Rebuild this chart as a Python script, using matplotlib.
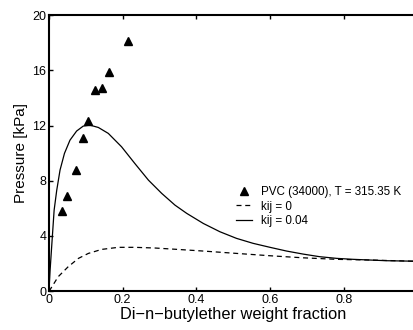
import matplotlib
matplotlib.use('Agg')
from matplotlib import pyplot as plt

plt.rcParams['font.family'] = ['Liberation Sans', 'DejaVu Sans']

# экспериментальные точки
exp_x = [0.036, 0.050, 0.072, 0.093, 0.105, 0.125, 0.145, 0.164, 0.214]
exp_p = [5.8, 6.9, 8.75, 11.1, 12.3, 14.6, 14.7, 15.9, 18.1]

# kij = 0.04
fit_x = [0.0, 0.003, 0.009, 0.014, 0.021, 0.030, 0.042, 0.057, 0.075, 0.093,
         0.111, 0.134, 0.161, 0.197, 0.233, 0.270, 0.306, 0.342, 0.374, 0.419,
         0.464, 0.509, 0.554, 0.600, 0.645, 0.690, 0.735, 0.781, 0.826, 0.871,
         0.916, 0.98, 1.0]
fit_p = [0.0, 1.5, 3.9, 5.87, 7.3, 8.77, 9.98, 10.94, 11.6, 11.96,
         12.03, 11.86, 11.43, 10.46, 9.25, 8.04, 7.08, 6.23, 5.63, 4.9,
         4.3, 3.82, 3.46, 3.17, 2.9, 2.68, 2.49, 2.37, 2.3, 2.25,
         2.2, 2.17, 2.16]

# kij = 0
zero_x = [0.0, 0.003, 0.025, 0.052, 0.080, 0.107, 0.143, 0.188, 0.233, 0.288,
          0.337, 0.419, 0.509, 0.600, 0.690, 0.781, 0.871, 0.98, 1.0]
zero_p = [0.0, 0.1, 1.04, 1.76, 2.37, 2.73, 3.02, 3.17, 3.17, 3.12,
          3.04, 2.9, 2.73, 2.56, 2.41, 2.3, 2.25, 2.17, 2.16]

fig = plt.figure(figsize=(4.13, 3.3), dpi=100)
axs = fig.add_axes([0.1186, 0.118, 0.892, 0.836])

axs.plot(exp_x, exp_p, '^', color='black', markersize=6, label='PVC (34000), T = 315.35 K')
axs.plot(zero_x, zero_p, '--', color='black', linewidth=0.9, dashes=(4, 3), label='kij = 0')
axs.plot(fit_x, fit_p, '-', color='black', linewidth=0.9, label='kij = 0.04')

axs.set_xlim(0, 1)
axs.set_ylim(0, 20)
axs.set_xticks([0, 0.2, 0.4, 0.6, 0.8])
axs.set_xticklabels(['0', '0.2', '0.4', '0.6', '0.8'])
axs.set_yticks([0, 4, 8, 12, 16, 20])
axs.tick_params(direction='in', top=True, right=True, labelsize=9, length=3, width=1, pad=2)
for s in axs.spines.values():
    s.set_linewidth(1.5)

axs.set_xlabel('Di\u2212n\u2212butylether weight fraction', fontsize=11.8, labelpad=1)
axs.set_ylabel('Pressure [kPa]', fontsize=11, labelpad=3)

axs.legend(loc='upper left', bbox_to_anchor=(0.509, 0.38), frameon=False, fontsize=8.4,
           handlelength=1.3, handletextpad=0.8, labelspacing=0.2, borderaxespad=0,
           borderpad=0)

fig.savefig('out.png', dpi=100)
